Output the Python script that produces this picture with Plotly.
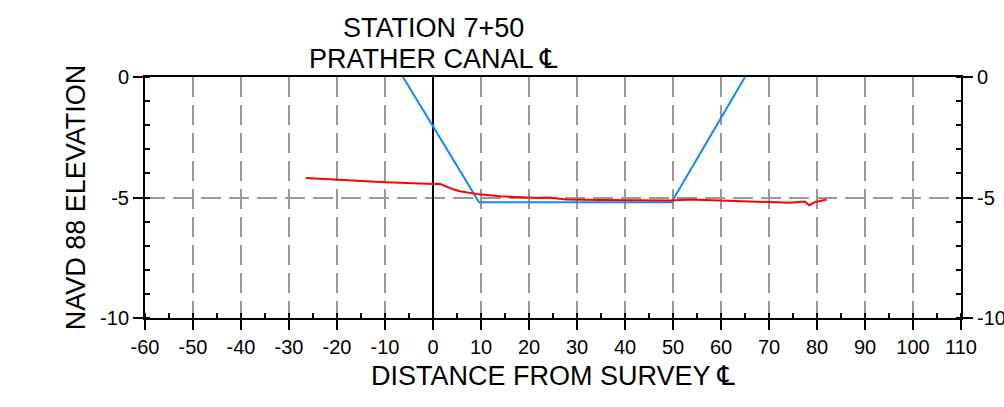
import plotly.graph_objects as go

# ---- data ----
design_x = [-6.25, 9.6, 49.7, 65.0]
design_y = [0.0, -5.2, -5.2, 0.0]

ground_x = [-26.5, -11, 0, 1.4, 4.2, 5.6, 9.6, 14, 19.5, 22, 24, 27.8, 35, 49.7, 53.5, 64, 74.4, 77.5, 78.4, 79.4, 82]
ground_y = [-4.19, -4.36, -4.44, -4.43, -4.66, -4.74, -4.87, -4.95, -5.0, -5.02, -5.0, -5.08, -5.1, -5.12, -5.08, -5.15, -5.22, -5.17, -5.32, -5.2, -5.08]

x_tick_vals = [-60, -50, -40, -30, -20, -10, 0, 10, 20, 30, 40, 50, 60, 70, 80, 90, 100, 110]
x_tick_text = ["-60", "-50", "-40", "-30", "-20", "-10", "0", "10", "20", "30", "40", "50",
               "60", "70", "80", "90", "100", "110"]
y_tick_vals = [0, -5, -10]
y_tick_text = ["0", "-5", "-10"]

title_lines = ["STATION 7+50", "PRATHER CANAL \u2104"]
x_title = "DISTANCE FROM SURVEY \u2104"
y_title = "NAVD 88 ELEVATION"
x_range = [-60, 110]
y_range = [-10, 0]

FONT = "Liberation Sans, Arial, DejaVu Sans, sans-serif"

fig = go.Figure()
fig.add_trace(go.Scatter(x=design_x, y=design_y, mode="lines",
                         line=dict(color="rgb(20,135,255)", width=2),
                         showlegend=False, hoverinfo="skip"))
fig.add_trace(go.Scatter(x=ground_x, y=ground_y, mode="lines",
                         line=dict(color="#ff0000", width=2),
                         showlegend=False, hoverinfo="skip"))
# invisible trace to activate right axis
fig.add_trace(go.Scatter(x=[None], y=[None], yaxis="y2", showlegend=False, hoverinfo="skip"))

grid_common = dict(gridcolor="#999999", gridwidth=2, griddash="20px,8px")
tick_common = dict(ticks="outside", ticklen=10, tickwidth=2, tickcolor="black",
                   showline=True, linecolor="black", linewidth=2, automargin=False,
                   tickfont=dict(size=20))

fig.update_layout(
    width=1004, height=407,
    margin=dict(l=145, r=43, t=77, b=89, autoexpand=False),
    paper_bgcolor="white", plot_bgcolor="white",
    font=dict(family=FONT, color="black", size=20),
    xaxis=dict(range=x_range, tickmode="array", tickvals=x_tick_vals, ticktext=x_tick_text,
               mirror=True,
               minor=dict(dtick=5, tick0=0, ticks="inside", ticklen=5, tickwidth=2, tickcolor="black", showgrid=False),
               showgrid=True, **grid_common,
               zeroline=True, zerolinecolor="black", zerolinewidth=2,
               title=dict(text=x_title, font=dict(size=27), standoff=9),
               **tick_common),
    yaxis=dict(range=y_range, tickmode="array", tickvals=y_tick_vals, ticktext=y_tick_text,
               minor=dict(dtick=1, tick0=0, ticks="inside", ticklen=5, tickwidth=2, tickcolor="black", showgrid=False),
               showgrid=True, **grid_common,
               zeroline=False,
               title=dict(text=y_title, font=dict(size=27), standoff=7),
               **tick_common),
    yaxis2=dict(range=y_range, tickmode="array", tickvals=y_tick_vals, ticktext=y_tick_text,
                overlaying="y", side="right",
                minor=dict(dtick=1, tick0=0, ticks="inside", ticklen=5, tickwidth=2, tickcolor="black", showgrid=False),
                showgrid=False, zeroline=False,
                **tick_common),
)

fig.add_annotation(text=title_lines[0], xref="x", x=0, yref="paper", y=1, yanchor="bottom",
                   yshift=32, showarrow=False, font=dict(size=27, family=FONT))
fig.add_annotation(text=title_lines[1], xref="x", x=0, yref="paper", y=1, yanchor="bottom",
                   yshift=1, showarrow=False, font=dict(size=27, family=FONT))

fig.write_html("out.html", config={"displayModeBar": False},
               post_script="document.body.style.margin='0';document.body.style.overflow='hidden';")
